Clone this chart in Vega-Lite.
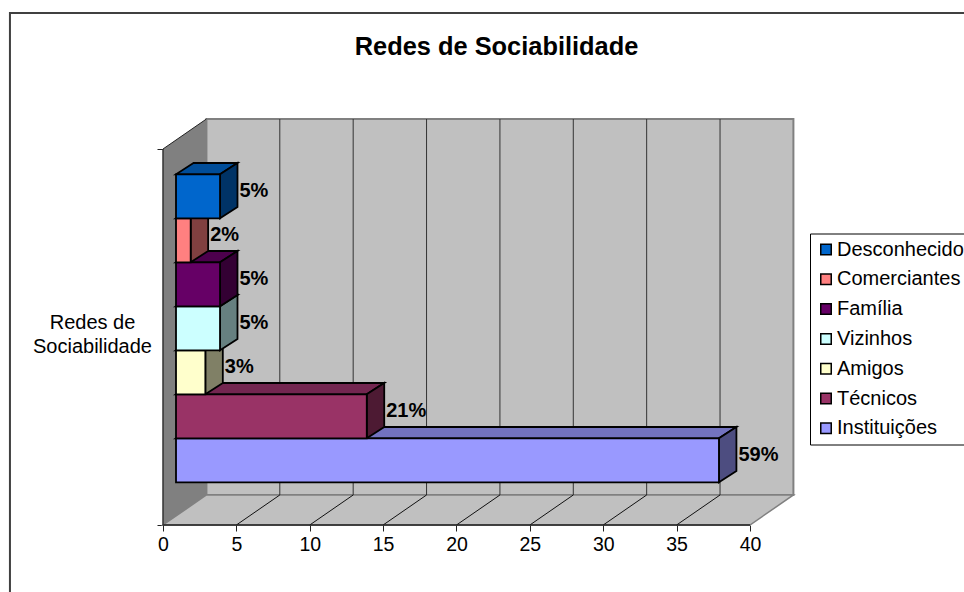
{"$schema":"https://vega.github.io/schema/vega-lite/v6.json","width":631,"height":406,"autosize":{"type":"none"},"padding":{"left":163,"right":170,"top":119,"bottom":67},"background":"white",
"title":{"text":"Redes de Sociabilidade","font":"Liberation Sans","fontSize":25.4,"fontWeight":"bold","color":"black","anchor":"middle","frame":"group","dx":18,"offset":-48},
"datasets":{"barras":[{"categoria":"Instituições","valor":37,"pct":"59%","ordem":0},{"categoria":"Técnicos","valor":13,"pct":"21%","ordem":1},{"categoria":"Amigos","valor":2,"pct":"3%","ordem":2},{"categoria":"Vizinhos","valor":3,"pct":"5%","ordem":3},{"categoria":"Família","valor":3,"pct":"5%","ordem":4},{"categoria":"Comerciantes","valor":1,"pct":"2%","ordem":5},{"categoria":"Desconhecidos","valor":3,"pct":"5%","ordem":6}],"marcas":[{"m":0},{"m":5},{"m":10},{"m":15},{"m":20},{"m":25},{"m":30},{"m":35},{"m":40}]},
"layer":[
{"data":{"values":[{"id":"parede"}]},"transform":[{"calculate":"2.96","as":"a"},{"calculate":"42.96","as":"b"},{"calculate":"0.682","as":"c"},{"calculate":"9.227","as":"d"}],"mark":{"type":"rect","fill":"#C0C0C0","stroke":"#808080","strokeWidth":2},"encoding":{
"x":{"field":"a","type":"quantitative","scale":{"domain":[0,43],"nice":false,"zero":false},"axis":{"title":null,"values":[0,5,10,15,20,25,30,35,40],"grid":false,"domain":false,"tickColor":"#222222","tickSize":6,"labelFont":"Liberation Sans","labelFontSize":19.5,"labelColor":"black","labelPadding":4,"labelFlush":false,"format":"d"}},
"x2":{"field":"b"},
"y":{"field":"c","type":"quantitative","scale":{"domain":[0,9.227],"nice":false,"zero":false},"axis":{"title":["Redes de","Sociabilidade"],"titleAngle":0,"titleX":-71,"titleY":203,"titleAlign":"center","titleBaseline":"middle","titleFont":"Liberation Sans","titleFontSize":20,"titleFontWeight":"normal","titleColor":"black","titleLineHeight":24,"values":[0,8.545],"grid":false,"domain":false,"labels":false,"tickColor":"#222222","tickSize":6}},
"y2":{"field":"d"}}},
{"data":{"values":[{"t":0},{"t":1}]},"transform":[{"calculate":"datum.t*2.96","as":"px"},{"calculate":"datum.t*0.682","as":"pa"},{"calculate":"8.545+datum.t*0.682","as":"pb"}],"mark":{"type":"area","fill":"#808080","orient":"vertical"},"encoding":{"x":{"field":"px","type":"quantitative","scale":{"domain":[0,43],"nice":false,"zero":false},"axis":null},"y":{"field":"pa","type":"quantitative","scale":{"domain":[0,9.227],"nice":false,"zero":false},"axis":null},"y2":{"field":"pb"}}},
{"data":{"values":[{"t":0},{"t":1}]},"transform":[{"calculate":"datum.t*0.682","as":"py"},{"calculate":"datum.t*2.96","as":"xa"},{"calculate":"40+datum.t*2.96","as":"xb"}],"mark":{"type":"area","fill":"#C0C0C0","stroke":"#808080","strokeWidth":1.5,"orient":"horizontal"},"encoding":{"y":{"field":"py","type":"quantitative","scale":{"domain":[0,9.227],"nice":false,"zero":false},"axis":null},"x":{"field":"xa","type":"quantitative","scale":{"domain":[0,43],"nice":false,"zero":false},"axis":null},"x2":{"field":"xb"}}},
{"data":{"name":"marcas"},"transform":[{"filter":"datum.m>0 && datum.m<40"},{"calculate":"datum.m+2.96","as":"mb"},{"calculate":"0.682","as":"c"},{"calculate":"9.227","as":"d"}],"mark":{"type":"rule","stroke":"#333333","strokeWidth":1},"encoding":{"x":{"field":"mb","type":"quantitative","scale":{"domain":[0,43],"nice":false,"zero":false},"axis":null},"y":{"field":"c","type":"quantitative","scale":{"domain":[0,9.227],"nice":false,"zero":false},"axis":null},"y2":{"field":"d"}}},
{"data":{"name":"marcas"},"transform":[{"filter":"datum.m>0 && datum.m<40"},{"calculate":"datum.m+2.96","as":"mb"},{"calculate":"0","as":"c"},{"calculate":"0.682","as":"d"}],"mark":{"type":"rule","stroke":"#111111","strokeWidth":1},"encoding":{"x":{"field":"m","type":"quantitative","scale":{"domain":[0,43],"nice":false,"zero":false},"axis":null},"x2":{"field":"mb"},"y":{"field":"c","type":"quantitative","scale":{"domain":[0,9.227],"nice":false,"zero":false},"axis":null},"y2":{"field":"d"}}},
{"data":{"values":[{"id":"chao"}]},"transform":[{"calculate":"0","as":"a"},{"calculate":"40","as":"b"},{"calculate":"0","as":"c"}],"mark":{"type":"rule","stroke":"#222222","strokeWidth":1.5},"encoding":{"x":{"field":"a","type":"quantitative","scale":{"domain":[0,43],"nice":false,"zero":false},"axis":null},"x2":{"field":"b"},"y":{"field":"c","type":"quantitative","scale":{"domain":[0,9.227],"nice":false,"zero":false},"axis":null}}},
{"data":{"values":[{"id":"frente"}]},"transform":[{"calculate":"0","as":"a"},{"calculate":"0","as":"c"},{"calculate":"8.545","as":"d"}],"mark":{"type":"rule","stroke":"#333333","strokeWidth":1.5},"encoding":{"x":{"field":"a","type":"quantitative","scale":{"domain":[0,43],"nice":false,"zero":false},"axis":null},"y":{"field":"c","type":"quantitative","scale":{"domain":[0,9.227],"nice":false,"zero":false},"axis":null},"y2":{"field":"d"}}},
{"data":{"values":[{"id":"aresta"}]},"transform":[{"calculate":"0","as":"a"},{"calculate":"2.96","as":"b"},{"calculate":"8.545","as":"c"},{"calculate":"9.227","as":"d"}],"mark":{"type":"rule","stroke":"#222222","strokeWidth":1},"encoding":{"x":{"field":"a","type":"quantitative","scale":{"domain":[0,43],"nice":false,"zero":false},"axis":null},"x2":{"field":"b"},"y":{"field":"c","type":"quantitative","scale":{"domain":[0,9.227],"nice":false,"zero":false},"axis":null},"y2":{"field":"d"}}},
{"data":{"name":"barras"},"transform":[{"calculate":"[0,1]","as":"t"},{"flatten":["t"]},{"calculate":"datum.ordem+1.97+datum.t*0.257","as":"ty"},{"calculate":"0.886+datum.t*1.19","as":"xa"},{"calculate":"0.886+datum.valor+datum.t*1.19","as":"xb"}],"mark":{"type":"area","orient":"horizontal","stroke":"black","strokeWidth":1.8},"encoding":{"y":{"field":"ty","type":"quantitative","scale":{"domain":[0,9.227],"nice":false,"zero":false},"axis":null},"x":{"field":"xa","type":"quantitative","scale":{"domain":[0,43],"nice":false,"zero":false},"axis":null},"x2":{"field":"xb"},"color":{"field":"categoria","type":"nominal","legend":null,"scale":{"domain":["Desconhecidos","Comerciantes","Família","Vizinhos","Amigos","Técnicos","Instituições"],"range":["#004D99","#BF6060","#4D004D","#99BFBF","#BFBF99","#732650","#7373BF"]}}}},
{"data":{"name":"barras"},"transform":[{"calculate":"[0,1]","as":"t"},{"flatten":["t"]},{"calculate":"0.886+datum.valor+datum.t*1.19","as":"sx"},{"calculate":"datum.ordem+0.97+datum.t*0.257","as":"ya"},{"calculate":"datum.ordem+1.97+datum.t*0.257","as":"yb"}],"mark":{"type":"area","orient":"vertical","stroke":"black","strokeWidth":1.8},"encoding":{"x":{"field":"sx","type":"quantitative","scale":{"domain":[0,43],"nice":false,"zero":false},"axis":null},"y":{"field":"ya","type":"quantitative","scale":{"domain":[0,9.227],"nice":false,"zero":false},"axis":null},"y2":{"field":"yb"},"color":{"field":"categoria","type":"nominal","legend":null,"scale":{"domain":["Desconhecidos","Comerciantes","Família","Vizinhos","Amigos","Técnicos","Instituições"],"range":["#003366","#804040","#330033","#668080","#808066","#4D1A33","#4D4D80"]}}}},
{"data":{"name":"barras"},"transform":[{"calculate":"0.886","as":"xi"},{"calculate":"datum.valor+0.886","as":"xf"},{"calculate":"datum.ordem+0.97","as":"ya"},{"calculate":"datum.ordem+1.97","as":"yb"}],"mark":{"type":"rect","stroke":"black","strokeWidth":1.8},"encoding":{"x":{"field":"xi","type":"quantitative","scale":{"domain":[0,43],"nice":false,"zero":false},"axis":null},"x2":{"field":"xf"},"y":{"field":"ya","type":"quantitative","scale":{"domain":[0,9.227],"nice":false,"zero":false},"axis":null},"y2":{"field":"yb"},"color":{"field":"categoria","type":"nominal","scale":{"domain":["Desconhecidos","Comerciantes","Família","Vizinhos","Amigos","Técnicos","Instituições"],"range":["#0066CC","#FF8080","#660066","#CCFFFF","#FFFFCC","#993366","#9999FF"]},"legend":{"title":null,"orient":"none","legendX":647,"legendY":114.5,"padding":6,"symbolOffset":0,"symbolType":"square","symbolSize":110,"symbolStrokeColor":"black","symbolStrokeWidth":1.5,"labelFont":"Liberation Sans","labelFontSize":20,"labelColor":"black","labelOffset":1,"labelLimit":300,"rowPadding":9.8,"strokeColor":"black","fillColor":"white","cornerRadius":0}}}},
{"data":{"name":"barras"},"transform":[{"calculate":"datum.valor+2.076","as":"tx"},{"calculate":"datum.ordem+1.58","as":"ty"}],"mark":{"type":"text","align":"left","baseline":"middle","dx":2,"font":"Liberation Sans","fontSize":20,"fontWeight":"bold","color":"black"},"encoding":{"x":{"field":"tx","type":"quantitative","scale":{"domain":[0,43],"nice":false,"zero":false},"axis":null},"y":{"field":"ty","type":"quantitative","scale":{"domain":[0,9.227],"nice":false,"zero":false},"axis":null},"text":{"field":"pct"}}},
{"data":{"values":[{"id":"moldura"}]},"transform":[{"calculate":"-10.43","as":"a"},{"calculate":"60","as":"b"},{"calculate":"-2","as":"c"},{"calculate":"11.636","as":"d"}],"mark":{"type":"rect","fill":"transparent","stroke":"#404040","strokeWidth":2,"clip":false},"encoding":{"x":{"field":"a","type":"quantitative","scale":{"domain":[0,43],"nice":false,"zero":false},"axis":null},"x2":{"field":"b"},"y":{"field":"c","type":"quantitative","scale":{"domain":[0,9.227],"nice":false,"zero":false},"axis":null},"y2":{"field":"d"}}}
],
"resolve":{"scale":{"color":"independent"},"axis":{"x":"independent","y":"independent"}},
"config":{"view":{"stroke":null}}}
